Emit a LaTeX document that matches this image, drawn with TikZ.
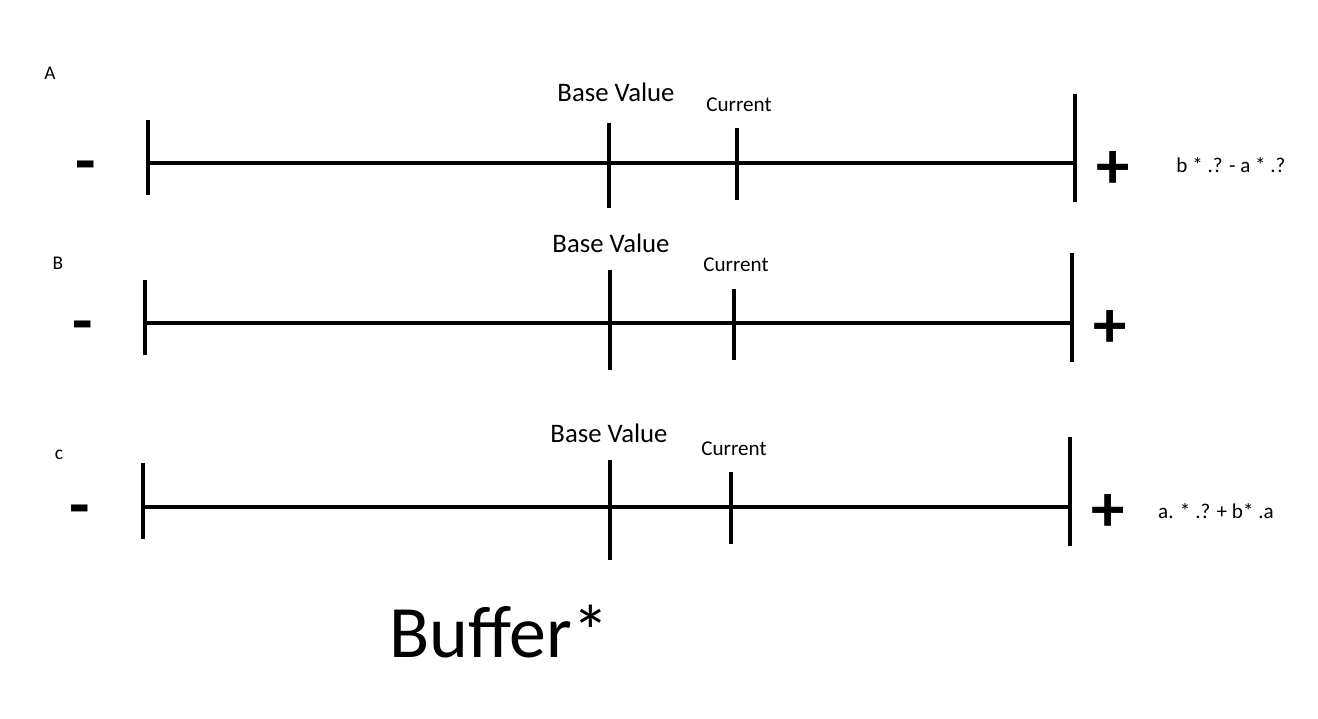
\documentclass[tikz,border=0pt]{standalone}
\usepackage{fontspec}
\setmainfont{Carlito}
\usetikzlibrary{positioning,calc}

\begin{document}
\begin{tikzpicture}[x=0.01cm, y=-0.01cm,
    bar/.style={line width=1.2pt},
    rowlabel/.style={font=\fontsize{5.5}{6}\selectfont},
    baselabel/.style={font=\fontsize{7.6}{9}\selectfont},
    curlabel/.style={font=\fontsize{6}{7}\selectfont},
    formula/.style={font=\fontsize{6}{7}\selectfont},
    sign/.style={font=\bfseries\fontsize{19}{20}\selectfont, inner sep=0pt}]
    \useasboundingbox[fill=white] (0,0) rectangle (1318,719);

    % row A
    \node[rowlabel] (A) at (50,73) {A};
    \node[sign] (minusA) at (86,172) {-};
    \node[sign] (plusA) at (1113,170) {+};
    \coordinate (lA) at (148,163);
    \coordinate (bA) at (609,163);
    \coordinate (cA) at (737,163);
    \coordinate (rA) at (1075,163);
    \draw[bar] (lA) -- (rA);
    \draw[bar] (lA) ++(0,-43) -- ++(0,75);
    \draw[bar] (bA) ++(0,-40) -- ++(0,85);
    \draw[bar] (cA) ++(0,-35) -- ++(0,72);
    \draw[bar] (rA) ++(0,-69) -- ++(0,108);
    \node[baselabel] (baseA) at (616,92) {Base Value};
    \node[curlabel] (curA) at (739,105) {Current};
    \node[formula] (fA) at (1231,165) {b * .? - a * .?};

    % row B
    \node[rowlabel] (B) at (58,263) {B};
    \node[sign] (minusB) at (83,332) {-};
    \node[sign] (plusB) at (1110,329) {+};
    \coordinate (lB) at (145,323);
    \coordinate (bB) at (610,323);
    \coordinate (cB) at (734,323);
    \coordinate (rB) at (1072,323);
    \draw[bar] (lB) -- (rB);
    \draw[bar] (lB) ++(0,-43) -- ++(0,75);
    \draw[bar] (bB) ++(0,-53) -- ++(0,100);
    \draw[bar] (cB) ++(0,-34) -- ++(0,71);
    \draw[bar] (rB) ++(0,-70) -- ++(0,109);
    \node[baselabel] (baseB) at (611,243) {Base Value};
    \node[curlabel] (curB) at (736,265) {Current};

    % row C
    \node[rowlabel] (C) at (59,455) {c};
    \node[sign] (minusC) at (80,516) {-};
    \node[sign] (plusC) at (1108,513) {+};
    \coordinate (lC) at (143,507);
    \coordinate (bC) at (610,507);
    \coordinate (cC) at (731,507);
    \coordinate (rC) at (1070,507);
    \draw[bar] (lC) -- (rC);
    \draw[bar] (lC) ++(0,-44) -- ++(0,76);
    \draw[bar] (bC) ++(0,-47) -- ++(0,100);
    \draw[bar] (cC) ++(0,-35) -- ++(0,72);
    \draw[bar] (rC) ++(0,-70) -- ++(0,109);
    \node[baselabel] (baseC) at (609,433) {Base Value};
    \node[curlabel] (curC) at (734,449) {Current};
    \node[formula] (fC) at (1216,511) {a. * .? + b* .a};

    \node[font=\fontsize{21}{23}\selectfont] (buffer) at (499,632) {Buffer*};
\end{tikzpicture}
\end{document}
